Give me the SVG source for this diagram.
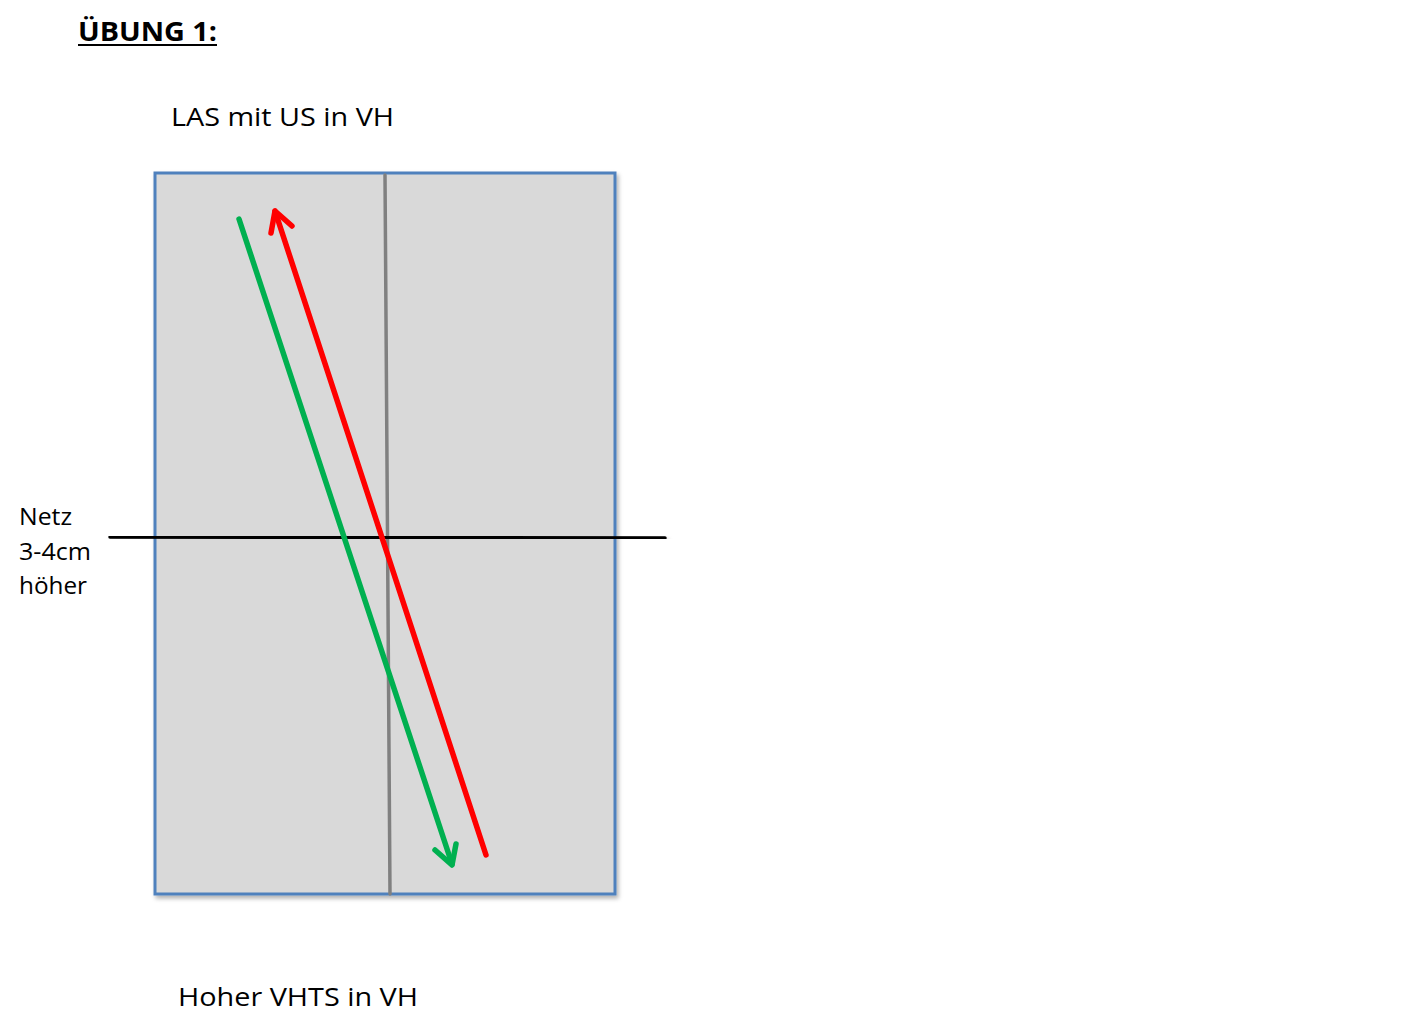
<svg xmlns="http://www.w3.org/2000/svg" width="1402" height="1036" viewBox="0 0 1402 1036">
<style>
.t{font-family:"Open Sans","Noto Sans","DejaVu Sans",sans-serif;fill:#000}
.lbl{font-size:26px}
.side{font-size:24px}
</style>
<defs>
<filter id="sh" x="-5%" y="-5%" width="115%" height="115%">
<feDropShadow dx="2" dy="3" stdDeviation="2" flood-color="#000" flood-opacity="0.3"/>
</filter>
</defs>
<rect width="1402" height="1036" fill="#fff"/>
<g id="title">
<text class="t" x="78" y="41" font-size="26" font-weight="bold" textLength="139" lengthAdjust="spacingAndGlyphs">ÜBUNG 1:</text>
<line x1="78" y1="45" x2="217" y2="45" stroke="#000" stroke-width="2"/>
</g>
<g id="label-top"><text class="t lbl" x="171" y="126" textLength="223" lengthAdjust="spacingAndGlyphs">LAS mit US in VH</text></g>
<g id="field">
<rect x="155" y="173" width="460" height="721" fill="#D9D9D9" stroke="#4F81BD" stroke-width="3" filter="url(#sh)"/>
</g>
<g id="connectors" fill="none" stroke-linecap="round" stroke-linejoin="round">
<line x1="385" y1="175" x2="390" y2="894" stroke="#808080" stroke-width="3.5"/>
<line x1="110" y1="537" x2="665" y2="538" stroke="#000" stroke-width="3.5" filter="url(#sh)"/>
<g stroke="#00B050" stroke-width="5.5">
<line x1="239" y1="219" x2="452" y2="864"/>
<polyline points="435,850 452,865 456,844"/>
</g>
<g stroke="#FF0000" stroke-width="5.5">
<line x1="486" y1="855" x2="275" y2="211"/>
<polyline points="271,233 275,211 292,226"/>
</g>
</g>
<g id="label-net">
<text class="t side" x="19" y="525" textLength="53" lengthAdjust="spacingAndGlyphs">Netz</text>
<text class="t side" x="19" y="560" textLength="72" lengthAdjust="spacingAndGlyphs">3-4cm</text>
<text class="t side" x="19" y="594" textLength="68" lengthAdjust="spacingAndGlyphs">höher</text>
</g>
<g id="label-bottom"><text class="t lbl" x="178" y="1006" textLength="240" lengthAdjust="spacingAndGlyphs">Hoher VHTS in VH</text></g>
</svg>
